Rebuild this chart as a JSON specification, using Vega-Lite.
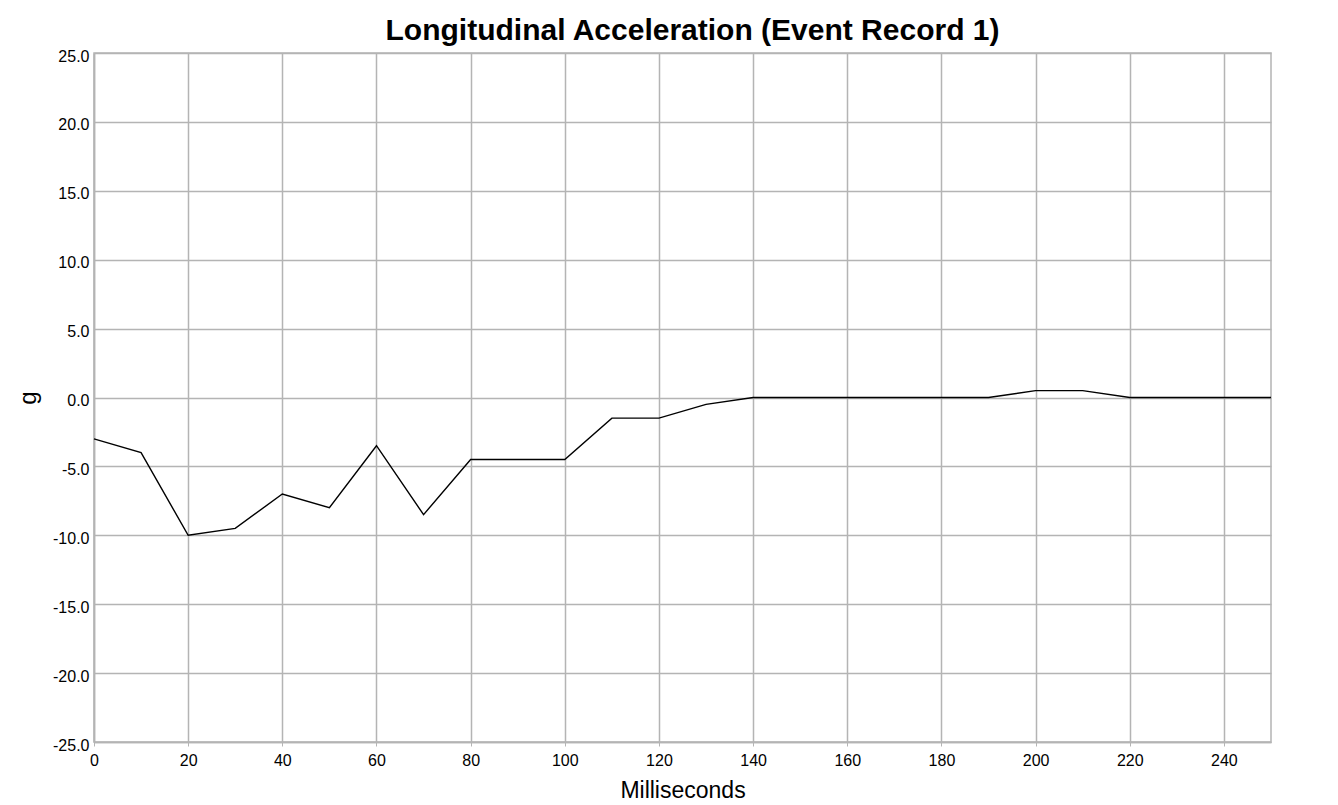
{
  "$schema": "https://vega.github.io/schema/vega-lite/v6.json",
  "width": 1177,
  "height": 689,
  "autosize": {"type": "none"},
  "padding": {"left": 94, "top": 53, "right": 67, "bottom": 63},
  "background": "white",
  "config": {
    "font": "Liberation Sans",
    "view": {"stroke": "#b4b4b4", "strokeWidth": 1.5}
  },
  "title": {
    "text": "Longitudinal Acceleration (Event Record 1)",
    "font": "Liberation Sans",
    "fontSize": 30,
    "fontWeight": "bold",
    "color": "black",
    "anchor": "middle",
    "dx": 10,
    "offset": 2
  },
  "data": {
    "values": [
      {"ms": 0, "g": -3.0},
      {"ms": 10, "g": -4.0},
      {"ms": 20, "g": -10.0},
      {"ms": 30, "g": -9.5},
      {"ms": 40, "g": -7.0},
      {"ms": 50, "g": -8.0},
      {"ms": 60, "g": -3.5},
      {"ms": 70, "g": -8.5},
      {"ms": 80, "g": -4.5},
      {"ms": 90, "g": -4.5},
      {"ms": 100, "g": -4.5},
      {"ms": 110, "g": -1.5},
      {"ms": 120, "g": -1.5},
      {"ms": 130, "g": -0.5},
      {"ms": 140, "g": 0.0},
      {"ms": 150, "g": 0.0},
      {"ms": 160, "g": 0.0},
      {"ms": 170, "g": 0.0},
      {"ms": 180, "g": 0.0},
      {"ms": 190, "g": 0.0},
      {"ms": 200, "g": 0.5},
      {"ms": 210, "g": 0.5},
      {"ms": 220, "g": 0.0},
      {"ms": 230, "g": 0.0},
      {"ms": 240, "g": 0.0},
      {"ms": 250, "g": 0.0}
    ]
  },
  "mark": {"type": "line", "color": "black", "strokeWidth": 1.4},
  "encoding": {
    "x": {
      "field": "ms",
      "type": "quantitative",
      "scale": {"domain": [0, 250], "nice": false, "zero": false},
      "axis": {
        "title": "Milliseconds",
        "titleFont": "Liberation Sans",
        "titleFontSize": 23,
        "titleFontWeight": "normal",
        "titleColor": "black",
        "titlePadding": 11,
        "values": [0, 20, 40, 60, 80, 100, 120, 140, 160, 180, 200, 220, 240],
        "labelFontSize": 16,
        "labelColor": "black",
        "labelPadding": 6,
        "labelFlush": false,
        "tickSize": 4,
        "tickColor": "#b4b4b4",
        "domainColor": "#b4b4b4",
        "domainWidth": 1.5,
        "gridColor": "#b4b4b4",
        "gridWidth": 1.5
      }
    },
    "y": {
      "field": "g",
      "type": "quantitative",
      "scale": {"domain": [-25, 25], "nice": false},
      "axis": {
        "title": "g",
        "titleFont": "Liberation Sans",
        "titleFontSize": 24,
        "titleFontWeight": "normal",
        "titleColor": "black",
        "titlePadding": 12,
        "values": [-25, -20, -15, -10, -5, 0, 5, 10, 15, 20, 25],
        "labelExpr": "replace(format(datum.value, '.1f'), '\u2212', '-')",
        "labelFontSize": 16,
        "labelColor": "black",
        "labelPadding": 5,
        "labelOffset": 3,
        "labelFlush": false,
        "ticks": false,
        "domainColor": "#b4b4b4",
        "domainWidth": 1.5,
        "gridColor": "#b4b4b4",
        "gridWidth": 1.5
      }
    }
  }
}
